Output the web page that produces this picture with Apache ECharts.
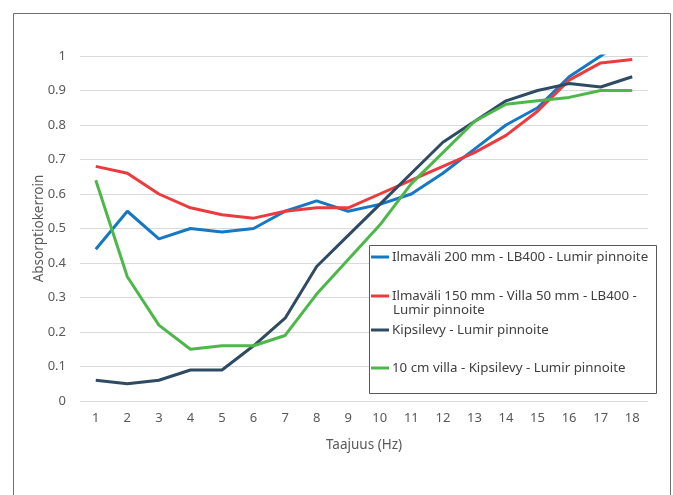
<!DOCTYPE html>
<html>
<head>
<meta charset="utf-8">
<script src="https://cdn.jsdelivr.net/npm/echarts@6/dist/echarts.min.js"></script>
<style>html,body{margin:0;padding:0;background:#fff;}#c{width:673px;height:495px;}</style>
</head>
<body>
<div id="c"></div>
<script>
var categories = ['1','2','3','4','5','6','7','8','9','10','11','12','13','14','15','16','17','18'];
var yTicks = [0, 0.1, 0.2, 0.3, 0.4, 0.5, 0.6, 0.7, 0.8, 0.9, 1];
var seriesNames = [
  'Ilmaväli 200 mm - LB400 - Lumir pinnoite',
  'Ilmaväli 150 mm - Villa 50 mm - LB400 - Lumir pinnoite',
  'Kipsilevy - Lumir pinnoite',
  '10 cm villa - Kipsilevy - Lumir pinnoite'
];
var ilma200 = [0.44,0.55,0.47,0.50,0.49,0.50,0.55,0.58,0.55,0.57,0.60,0.66,0.73,0.80,0.85,0.94,1.00,1.06];
var ilma150 = [0.68,0.66,0.60,0.56,0.54,0.53,0.55,0.56,0.56,0.60,0.64,0.68,0.72,0.77,0.84,0.93,0.98,0.99];
var kipsi   = [0.06,0.05,0.06,0.09,0.09,0.16,0.24,0.39,0.48,0.57,0.66,0.75,0.81,0.87,0.90,0.92,0.91,0.94];
var villa   = [0.64,0.36,0.22,0.15,0.16,0.16,0.19,0.31,0.41,0.51,0.63,0.72,0.81,0.86,0.87,0.88,0.90,0.90];
var colors = ['#1478c4', '#ec3b3f', '#2f4b63', '#4db84a'];
var seriesData = [ilma200, ilma150, kipsi, villa];

var FONT = 'Noto Sans';
var chart = echarts.init(document.getElementById('c'), null, {renderer: 'canvas'});

function mkLegend(i, top, label) {
  return {
    data: [seriesNames[i]],
    left: 371, top: top, orient: 'vertical', padding: 0, z: 20, zlevel: 0,
    icon: 'rect', itemWidth: 18, itemHeight: 3,
    selectedMode: false,
    formatter: function () { return label; },
    textStyle: {fontFamily: FONT, fontSize: 13.3, color: '#404040', lineHeight: 16, padding: [0,0,0,-2]}
  };
}

var option = {
  animation: false,
  backgroundColor: '#fff',
  color: colors,
  grid: {left: 80, right: 25, top: 56, bottom: 94},
  xAxis: {
    type: 'category', data: categories, boundaryGap: true,
    name: 'Taajuus (Hz)', nameLocation: 'middle', nameGap: 37,
    nameTextStyle: {fontFamily: FONT, fontSize: 13.5, color: '#595959'},
    axisLine: {show: false}, axisTick: {show: false},
    axisLabel: {fontFamily: FONT, fontSize: 13, color: '#595959', margin: 11}
  },
  yAxis: {
    type: 'value', min: 0, max: 1, interval: 0.1,
    name: 'Absorptiokerroin', nameLocation: 'middle', nameGap: 34, nameRotate: 90,
    nameMoveOverlap: false,
    nameTextStyle: {fontFamily: FONT, fontSize: 13.5, color: '#595959'},
    axisLine: {show: false}, axisTick: {show: false},
    axisLabel: {fontFamily: FONT, fontSize: 13, color: '#595959', margin: 14,
      formatter: function (v) { var r = Math.round(v * 10) / 10; return yTicks.indexOf(r) >= 0 ? String(r) : ''; }},
    splitLine: {lineStyle: {color: '#d9d9d9', width: 1}}
  },
  legend: [
    mkLegend(0, 249, seriesNames[0]),
    mkLegend(1, 288, 'Ilmaväli 150 mm - Villa 50 mm - LB400 -'),
    mkLegend(2, 322, seriesNames[2]),
    mkLegend(3, 360, seriesNames[3])
  ],
  graphic: [
    {type: 'rect', silent: true, z: -1, shape: {x: 13.5, y: 13.5, width: 657, height: 500},
      style: {fill: 'none', stroke: '#6f6f6f', lineWidth: 1}},
    {type: 'rect', silent: true, z: 5, shape: {x: 369.5, y: 245.5, width: 287, height: 148},
      style: {fill: '#fff', stroke: '#595959', lineWidth: 1}},
    {type: 'text', silent: true, z: 30, left: 393, top: 304,
      style: {text: 'Lumir pinnoite', font: '13.3px "Noto Sans"', fill: '#404040'}}
  ],
  series: seriesData.map(function (d, i) {
    return {
      name: seriesNames[i], type: 'line', data: d, symbol: 'none', smooth: false,
      clip: true, z: 2,
      lineStyle: {width: 3, color: colors[i]}
    };
  })
};
chart.setOption(option);
</script>
</body>
</html>
